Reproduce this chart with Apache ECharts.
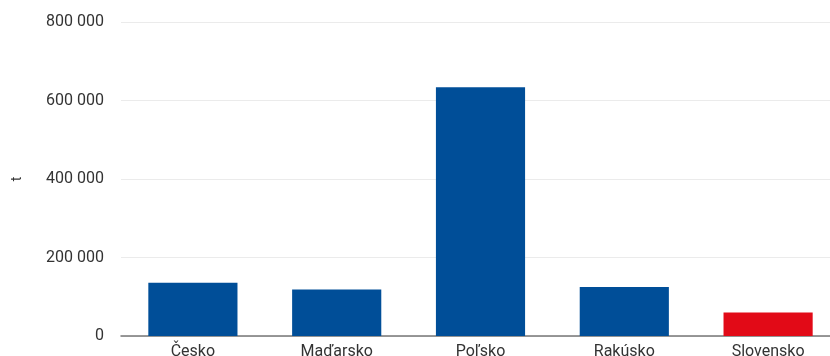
<!DOCTYPE html>
<html><head><meta charset="utf-8">
<script src="https://cdn.jsdelivr.net/npm/echarts@6/dist/echarts.min.js"></script>
<style>html,body{margin:0;padding:0;background:#fff}#c{width:830px;height:356px}</style>
</head><body><div id="c"></div>
<script>
const categories = ["Česko", "Maďarsko", "Poľsko", "Rakúsko", "Slovensko"];
const values = [135500, 118500, 633500, 125000, 60000];
const highlight = "Slovensko";
const yTicks = [0, 200000, 400000, 600000, 800000];
const yAxisName = "t";

const chart = echarts.init(document.getElementById('c'), null, {renderer: 'canvas'});
const fmt = v => String(v).replace(/\B(?=(\d{3})+(?!\d))/g, ' ');
chart.setOption({
  animation: false,
  textStyle: {fontFamily: 'Roboto'},
  grid: {left: 121, width: 719, top: 22, height: 314, containLabel: false, outerBoundsMode: 'none'},
  xAxis: {
    type: 'category', data: categories,
    axisTick: {show: false},
    axisLine: {lineStyle: {color: '#777', width: 1.5}},
    axisLabel: {color: '#333', fontSize: 16, margin: 8, fontFamily: 'Roboto'}
  },
  yAxis: {
    type: 'value', min: yTicks[0], max: yTicks[yTicks.length - 1], interval: 200000,
    name: yAxisName, nameLocation: 'middle', nameGap: 97, nameRotate: 90,
    nameTextStyle: {color: '#333', fontSize: 14},
    axisLine: {show: false}, axisTick: {show: false},
    splitLine: {lineStyle: {color: '#ebebeb', width: 1}},
    axisLabel: {color: '#333', fontSize: 16, margin: 17, formatter: fmt}
  },
  series: [{
    type: 'bar', barWidth: '62%',
    data: values.map((v, i) => ({value: v, itemStyle: {color: categories[i] === highlight ? '#e20a17' : '#004e98'}}))
  }]
});
</script></body></html>
